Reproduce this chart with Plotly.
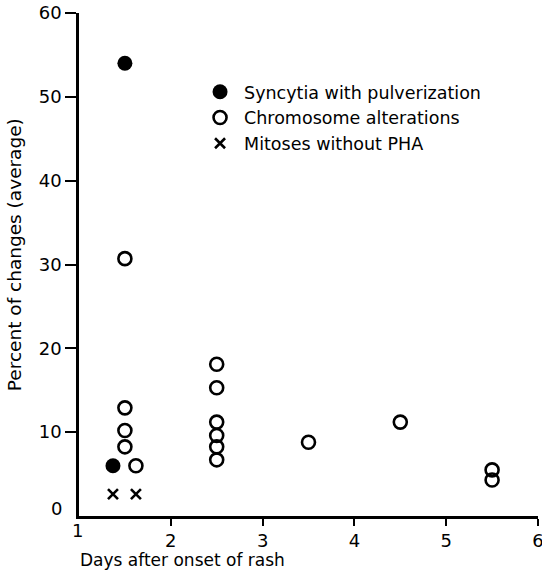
import plotly.graph_objects as go

# Data
syn_x = [1.5, 1.37]
syn_y = [54.0, 6.0]

chrom_x = [1.5, 1.5, 1.5, 1.5, 1.62, 2.5, 2.5, 2.5, 2.5, 2.5, 2.5, 3.5, 4.5, 5.5, 5.5]
chrom_y = [30.7, 12.9, 10.2, 8.25, 6.0, 18.1, 15.3, 11.2, 9.6, 8.25, 6.7, 8.8, 11.2, 5.5, 4.3]

mit_x = [1.37, 1.62]
mit_y = [2.6, 2.6]

x_ticks = [2, 3, 4, 5, 6]
y_ticks = [10, 20, 30, 40, 50, 60]

FONT = "DejaVu Sans"

fig = go.Figure()
fig.add_trace(go.Scatter(
    x=syn_x, y=syn_y, mode="markers", name="Syncytia with pulverization",
    marker=dict(symbol="circle", size=15, color="black"), cliponaxis=False))
fig.add_trace(go.Scatter(
    x=chrom_x, y=chrom_y, mode="markers", name="Chromosome alterations",
    marker=dict(symbol="circle-open", size=13, color="black", line=dict(width=2.6, color="black")),
    cliponaxis=False))
fig.add_trace(go.Scatter(
    x=mit_x, y=mit_y, mode="markers", name="Mitoses without PHA",
    marker=dict(symbol="x-thin-open", size=10, color="black", line=dict(width=2.6, color="black")),
    cliponaxis=False))

fig.update_layout(
    width=542, height=571,
    margin=dict(l=79, r=4, t=13, b=55, autoexpand=False),
    paper_bgcolor="white", plot_bgcolor="white",
    font=dict(family=FONT, size=15, color="black"),
    showlegend=True,
    legend=dict(x=0.255, y=0.879, xanchor="left", yanchor="top",
                font=dict(family=FONT, size=17.5, color="black"),
                bgcolor="rgba(0,0,0,0)", tracegroupgap=0, itemsizing="trace",
                itemwidth=38),
    xaxis=dict(range=[1, 6], tickvals=x_ticks, ticktext=[str(v) for v in x_ticks],
               automargin=False, ticklabeloverflow="allow",
               showgrid=False, zeroline=False, showline=True, linecolor="black", linewidth=2.5,
               ticks="outside", ticklen=7, tickwidth=2, tickcolor="black",
               tickfont=dict(family=FONT, size=18, color="black")),
    yaxis=dict(range=[0, 60], tickvals=y_ticks, ticktext=[str(v) for v in y_ticks],
               automargin=False, ticklabeloverflow="allow",
               showgrid=False, zeroline=False, showline=True, linecolor="black", linewidth=2.5,
               ticks="outside", ticklen=11, tickwidth=2, tickcolor="black",
               tickfont=dict(family=FONT, size=18, color="black")),
    annotations=[
        dict(text="0", xref="paper", yref="paper", x=-0.048, y=0.014, showarrow=False,
             font=dict(family=FONT, size=18, color="black"), xanchor="center", yanchor="middle"),
        dict(text="1", xref="paper", yref="paper", x=-0.004, y=-0.028, showarrow=False,
             font=dict(family=FONT, size=18, color="black"), xanchor="center", yanchor="middle"),
        dict(text="Days after onset of rash", xref="paper", yref="paper", x=-0.003, y=-0.087,
             showarrow=False, xanchor="left", yanchor="middle",
             font=dict(family=FONT, size=17, color="black")),
        dict(text="Percent of changes (average)", xref="paper", yref="paper", x=-0.14, y=0.52,
             showarrow=False, textangle=-90, xanchor="center", yanchor="middle",
             font=dict(family=FONT, size=18.5, color="black")),
    ],
)

# remove the default 8px page margin so the figure fills the window exactly
fig.write_html("out.html", config={"displayModeBar": False},
               post_script="document.body.style.margin='0';")
